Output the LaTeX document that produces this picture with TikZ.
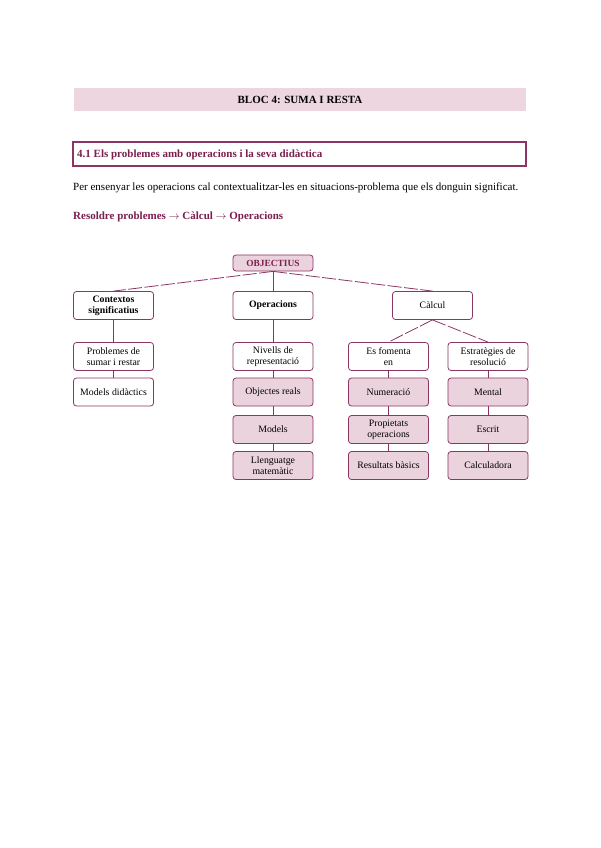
\documentclass[tikz,border=0pt]{standalone}
\usepackage{fontspec}
\setmainfont{Liberation Serif}
\definecolor{maroon}{HTML}{8A3563}
\definecolor{mtext}{HTML}{7A1F4E}
\definecolor{pinkfill}{HTML}{EBD3DE}
\definecolor{headfill}{HTML}{EDD6E0}
\begin{document}
\begin{tikzpicture}[x=1pt,y=-1pt,
  bx/.style={draw=maroon,line width=0.8pt,rounded corners=3pt,fill=white,
    minimum width=80pt,minimum height=28pt,align=center,inner sep=1pt,
    font=\fontsize{9.8}{11}\selectfont},
  pbx/.style={bx,fill=pinkfill},
  hbx/.style={bx,font=\fontsize{9.8}{11}\selectfont\bfseries},
  link/.style={draw=maroon,line width=0.8pt},
  dlink/.style={draw=maroon,line width=0.8pt,dash pattern=on 14pt off 2.5pt}]
\useasboundingbox (0,0) rectangle (600,848);
\fill[white] (0,0) rectangle (600,848);
% header
\node[fill=headfill,minimum width=452pt,minimum height=23pt,inner sep=0pt,
  font=\fontsize{11}{13}\selectfont\bfseries] (head) at (300,99.5) {BLOC 4: SUMA I RESTA};
\node[draw=maroon,line width=1.2pt,minimum width=453pt,minimum height=24pt,inner sep=0pt] (sec) at (299.5,154) {};
\node[anchor=west,text=mtext,font=\fontsize{11}{13}\selectfont\bfseries,inner sep=0pt] (sect) at (77,154.5) {4.1 Els problemes amb operacions i la seva didàctica};
\node[anchor=west,font=\fontsize{11}{13}\selectfont,inner sep=0pt] (para) at (73,188) {Per ensenyar les operacions cal contextualitzar-les en situacions-problema que els donguin significat.};
\node[anchor=west,text=mtext,font=\fontsize{11}{13}\selectfont\bfseries,inner sep=0pt] (path) at (73,216.5) {Resoldre problemes $\rightarrow$ Càlcul $\rightarrow$ Operacions};
% diagram
\node[pbx,minimum height=16pt,text=mtext,font=\fontsize{9.4}{10}\selectfont\bfseries] (obj) at (273,263) {OBJECTIUS};
\node[hbx] (ctx) at (113.5,305.5) {Contextos\\significatius};
\node[hbx] (ops) at (273,305.5) {Operacions};
\node[bx] (calc) at (432.5,305.5) {Càlcul};
\node[bx] (prob) at (113.5,356.5) {Problemes de\\sumar i restar};
\node[bx] (mdid) at (113.5,392) {Models didàctics};
\node[bx] (niv) at (273,356.5) {Nivells de\\representació};
\node[pbx] (obr) at (273,392) {Objectes reals};
\node[pbx] (mod) at (273,429.5) {Models};
\node[pbx] (llen) at (273,465.5) {Llenguatge\\matemàtic};
\node[bx] (fom) at (388.5,356.5) {Es fomenta\\en};
\node[pbx] (num) at (388.5,392) {Numeració};
\node[pbx] (prop) at (388.5,429.5) {Propietats\\operacions};
\node[pbx] (res) at (388.5,465.5) {Resultats bàsics};
\node[bx] (est) at (488,356.5) {Estratègies de\\resolució};
\node[pbx] (men) at (488,392) {Mental};
\node[pbx] (esc) at (488,429.5) {Escrit};
\node[pbx] (calcu) at (488,465.5) {Calculadora};
% connectors
\draw[dlink] (obj.south) -- (ctx.north);
\draw[dlink] (obj.south) -- (calc.north);
\draw[link] (obj.south) -- (ops.north);
\draw[link] (ctx) -- (prob);
\draw[link] (prob) -- (mdid);
\draw[link] (ops) -- (niv);
\draw[link] (niv) -- (obr);
\draw[link] (obr) -- (mod);
\draw[link] (mod) -- (llen);
\draw[dlink] (calc.south) -- (fom.north);
\draw[dlink] (calc.south) -- (est.north);
\draw[link] (fom) -- (num);
\draw[link] (num) -- (prop);
\draw[link] (prop) -- (res);
\draw[link] (est) -- (men);
\draw[link] (men) -- (esc);
\draw[link] (esc) -- (calcu);
\end{tikzpicture}
\end{document}
